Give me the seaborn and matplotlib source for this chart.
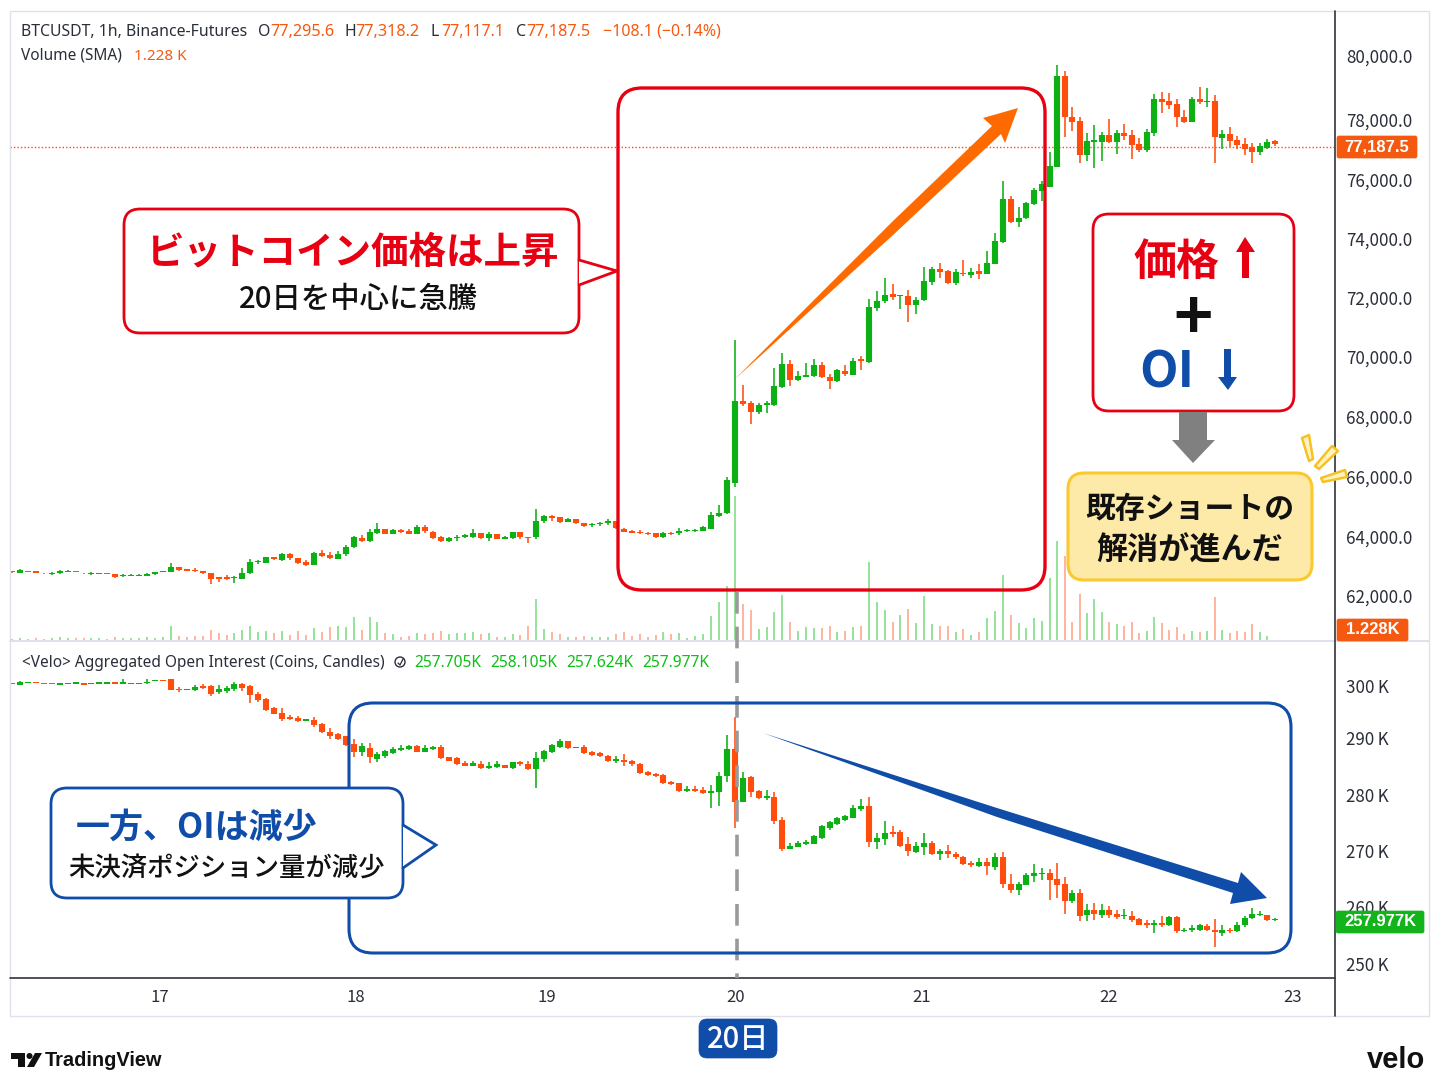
import numpy as np
import pandas as pd
import matplotlib
matplotlib.use("Agg")
import matplotlib.pyplot as plt
from matplotlib.patches import FancyBboxPatch, Polygon, Rectangle, Circle
from matplotlib.transforms import ScaledTranslation
import seaborn as sns

# hourly candles, open / high / low / close
price_candles = [
    (62870,62870,62800,62810),(62790,62910,62780,62890),(62870,62870,62830,62830),(62855,62855,62790,62790),
    (62800,62800,62770,62780),(62755,62810,62720,62790),(62780,62890,62755,62870),(62830,62880,62820,62870),
    (62855,62860,62820,62820),(62800,62800,62770,62780),(62755,62810,62720,62790),(62745,62780,62740,62780),
    (62790,62790,62755,62755),(62765,62765,62620,62650),(62690,62755,62650,62720),(62700,62740,62700,62730),
    (62700,62740,62700,62730),(62700,62800,62675,62755),(62755,62830,62730,62810),(62820,62860,62820,62855),
    (62820,63135,62810,62990),(62990,63000,62840,62888),(62910,62910,62860,62866),(62888,62945,62820,62840),
    (62840,62840,62755,62780),(62780,62780,62405,62600),(62640,62640,62500,62600),(62650,62730,62540,62600),
    (62610,62690,62460,62640),(62600,62945,62575,62790),(62780,63270,62755,63157),(63145,63235,63100,63190),
    (63135,63335,63112,63315),(63315,63315,63224,63258),(63224,63470,63200,63425),(63425,63448,63224,63280),
    (63280,63290,63090,63112),(63145,63224,63034,63056),(63056,63504,63045,63470),(63470,63560,63315,63347),
    (63392,63481,63258,63280),(63258,63537,63246,63414),(63414,63716,63358,63660),(63660,64030,63615,63996),
    (63974,64063,63817,63873),(63862,64253,63840,64153),(64119,64477,64097,64253),(64253,64253,64108,64108),
    (64108,64253,64085,64231),(64220,64276,64142,64164),(64197,64276,64085,64097),(64097,64410,64085,64343),
    (64320,64388,64119,64197),(64175,64197,63918,63951),(64007,64041,63828,63850),(63850,64007,63828,63974),
    (63951,64063,63873,64007),(63996,64085,63962,64052),(63996,64276,63974,64119),(64119,64119,63940,63962),
    (63951,64153,63873,64085),(64085,64085,63929,63929),(63940,64030,63918,63996),(63951,64175,63929,64163),
    (64153,64175,63929,63996),(64007,64007,63783,63974),(63985,64947,63940,64544),(64522,64746,64477,64701),
    (64690,64746,64544,64645),(64656,64678,64466,64488),(64500,64645,64488,64611),(64589,64611,64443,64455),
    (64455,64477,64320,64365),(64388,64455,64343,64432),(64421,64488,64376,64455),(64455,64600,64410,64533),
    (64522,64544,64253,64287),(64265,64309,64175,64175),(64197,64220,64119,64142),(64153,64242,64085,64119),
    (64119,64153,64063,64097),(64119,64130,63962,63996),(63985,64164,63962,64142),(64142,64175,64074,64097),
    (64119,64287,64052,64197),(64186,64253,64153,64231),(64197,64276,64175,64231),(64209,64365,64186,64320),
    (64276,64824,64253,64723),(64690,65070,64656,64813),(64802,66010,64768,65910),(65809,70608,65675,68561),
    (68570,69085,68391,68470),(68503,68570,67798,68190),(68190,68503,68123,68425),(68436,68559,68145,68481),
    (68436,69656,68403,69063),(69029,70182,68995,69790),(69801,69924,69074,69264),(69264,69577,69231,69387),
    (69376,69835,69354,69432),(69398,69958,69354,69779),(69779,69868,69331,69365),(69376,69466,68951,69231),
    (69219,69645,69197,69589),(69566,69756,69410,69466),(69443,70003,69432,69913),(69958,70081,69589,69913),
    (69880,71972,69846,71726),(71681,72252,71580,71927),(71905,72699,71838,72129),(72140,72487,71950,72039),
    (72073,72106,71636,72106),(72084,72274,71222,71771),(71771,72050,71491,71961),(71939,73046,71905,72588),
    (72565,73069,72453,73002),(73002,73181,72677,72890),(72923,72946,72487,72532),(72532,72979,72464,72878),
    (72867,73293,72755,72823),(72789,73024,72699,72901),(72923,73147,72655,72834),(72834,73606,72811,73192),
    (73169,74210,73147,73919),(73896,75944,73863,75340),(75340,75440,74534,74568),(74568,75071,74400,74702),
    (74702,75239,74668,75205),(75172,75709,75138,75642),(75608,75944,75272,75843),(75742,76917,75742,76447),
    (76413,79837,76413,79470),(79478,79635,77408,78079),(78079,78437,77621,77923),(77956,78079,76535,76815),
    (76815,77542,76625,77274),(77251,77833,76378,77307),(77262,77576,76625,77475),(77486,78035,77229,77240),
    (77240,77654,76860,77565),(77565,77844,77307,77441),(77475,77665,76669,77151),(77184,77374,76904,76994),
    (76983,77676,76904,77576),(77542,78851,77464,78684),(78695,78930,78214,78605),(78639,78896,78359,78505),
    (78527,78684,77766,78079),(78079,78314,77878,77934),(77934,78751,77911,78684),(78695,79086,78516,78605),
    (78594,79075,78437,78639),(78639,78818,76557,77408),(77397,77654,77005,77520),(77520,77755,77072,77296),
    (77318,77464,77005,77151),(77184,77374,76815,77016),(77072,77206,76557,76916),(76927,77229,76815,77106),
    (77061,77352,77027,77262),(77295.6,77318.2,77117.1,77187.5),
]

# thousands of coins per hour
volumes = [
    .22,.29,.26,.37,.26,.37,.48,.33,.37,.33,.29,.37,.26,.48,.29,.33,.29,.40,.29,.40,
    1.69,.59,.48,.59,.51,1.17,.88,.62,.88,1.25,1.65,.95,1.10,.88,1.10,.66,1.14,.62,1.39,1.03,
    1.58,1.69,1.50,2.68,1.21,2.64,2.09,.88,.73,.48,.59,.92,.73,.92,1.10,.77,.84,.84,.95,.77,
    .88,.44,.48,.81,.62,1.69,4.66,1.36,.99,.81,.44,.48,.59,.48,.48,.44,.81,.95,.59,.81,
    .48,.62,1.03,.77,.88,.37,.55,.77,2.79,4.33,6.06,16.0,4.07,3.41,1.28,1.50,3.16,5.06,2.06,1.10,
    1.58,1.43,1.39,1.61,.95,1.14,1.50,1.65,8.70,4.29,3.41,2.06,2.90,3.52,1.98,4.95,1.87,1.69,1.69,.99,
    1.32,.70,.95,2.50,3.34,7.27,2.90,1.95,1.43,2.57,2.17,6.97,11.0,9.40,2.13,5.14,3.12,4.59,3.16,2.13,
    1.87,1.69,2.09,.84,1.10,2.64,2.02,1.17,1.58,.77,1.10,1.03,1.06,4.88,1.25,.92,1.10,1.03,1.87,.95,
    .55,.05,
]

# aggregated open interest in thousands of coins
oi_candles = [
    (300.51,300.51,300.33,300.33),(300.09,300.81,300.03,300.69),(300.39,300.63,300.39,300.63),(300.57,300.57,300.39,300.39),
    (300.51,300.51,300.27,300.27),(300.51,300.51,300.21,300.21),(300.15,300.39,300.15,300.39),(300.21,300.45,300.21,300.45),
    (300.21,300.63,300.21,300.63),(300.45,300.45,300.15,300.15),(300.21,300.51,300.21,300.51),(300.33,300.57,300.33,300.57),
    (300.33,300.57,300.33,300.57),(300.57,300.57,300.33,300.33),(300.33,301.11,300.27,300.69),(300.33,300.51,300.33,300.51),
    (300.33,300.51,300.33,300.51),(300.39,301.17,300.33,300.69),(300.75,300.99,300.75,300.99),(300.99,300.99,300.75,300.75),
    (301.11,301.11,299.19,299.19),(299.43,299.79,298.89,299.19),(299.13,299.31,299.13,299.31),(299.19,300.03,299.07,299.67),
    (299.97,300.21,299.31,299.49),(299.91,300.09,298.11,298.47),(298.77,300.09,298.47,299.37),(298.95,299.97,298.71,299.55),
    (299.31,300.63,299.07,300.27),(300.21,300.39,299.01,299.61),(299.97,300.09,296.91,298.35),(298.47,298.89,297.09,297.45),
    (297.57,297.75,295.41,295.59),(295.89,296.19,294.81,294.93),(294.99,295.89,293.67,293.97),(294.27,294.69,293.85,294.03),
    (294.15,294.45,293.49,293.67),(293.55,293.91,293.55,293.91),(293.85,294.27,292.59,292.95),(293.13,293.19,291.45,291.57),
    (291.63,292.29,290.37,290.91),(291.21,291.51,290.13,290.37),(290.85,290.97,289.11,289.23),(289.47,290.37,287.07,288.09),
    (288.09,289.71,287.31,289.05),(288.75,289.71,285.99,287.07),(286.70,287.96,286.16,287.72),(287.24,288.38,287.00,288.14),
    (287.90,288.86,287.66,288.56),(288.32,289.22,288.20,288.74),(288.56,289.34,288.38,289.10),(289.16,289.22,287.96,288.08),
    (288.08,289.22,287.96,288.80),(288.56,289.16,288.38,288.92),(288.86,289.28,286.70,286.88),(287.06,287.18,286.34,286.46),
    (286.88,287.06,285.74,285.92),(286.10,286.40,285.44,285.56),(285.56,286.34,285.44,285.98),(285.80,286.46,284.90,285.08),
    (285.14,286.16,284.90,285.50),(285.38,286.46,285.20,285.80),(285.62,285.62,285.20,285.20),(285.14,286.28,285.02,286.16),
    (286.22,286.46,285.56,285.80),(285.80,286.34,284.78,284.90),(284.90,288.08,281.48,286.88),(286.70,288.38,286.22,288.26),
    (288.02,289.46,287.78,289.22),(288.98,290.42,288.80,290.06),(289.94,290.06,288.56,288.68),(288.68,288.98,288.68,288.98),
    (288.92,289.22,287.66,287.78),(288.02,288.20,287.36,287.48),(287.78,287.96,287.06,287.24),(287.36,287.48,286.22,286.34),
    (286.40,287.36,285.98,286.70),(286.64,287.60,285.56,286.28),(286.34,286.64,285.44,285.80),(285.92,286.04,284.06,284.18),
    (284.42,284.60,283.64,283.82),(284.06,284.24,283.58,283.76),(283.94,284.00,282.32,282.44),(282.68,282.80,282.08,282.26),
    (282.38,282.50,280.88,281.00),(281.00,281.84,280.88,281.36),(281.36,281.90,280.88,281.06),(281.18,281.66,280.46,280.70),
    (280.70,282.08,277.88,280.94),(280.88,284.48,278.36,283.76),(283.76,291.02,282.56,288.56),(288.56,294.32,274.32,279.08),
    (279.09,284.37,278.97,283.41),(283.47,283.71,279.99,280.77),(281.01,281.19,279.51,279.69),(279.69,281.19,279.39,280.11),
    (279.87,280.83,275.07,275.67),(275.79,276.27,270.27,270.57),(270.63,271.71,270.51,271.11),(270.99,272.01,270.87,271.71),
    (271.47,272.13,271.29,271.89),(271.53,273.09,271.41,272.91),(272.49,274.89,272.37,274.77),(274.35,275.67,274.05,275.37),
    (275.07,276.33,274.83,276.15),(275.73,276.63,275.55,276.45),(276.21,278.49,276.15,278.01),(277.71,279.51,277.41,278.25),
    (278.25,279.87,270.87,271.83),(271.83,273.39,270.51,272.61),(272.37,275.67,271.23,273.51),(273.63,274.77,272.73,273.27),
    (273.57,274.05,270.87,271.05),(271.47,272.79,269.25,270.15),(270.03,271.77,269.85,271.17),(270.93,273.45,269.43,271.65),
    (271.65,271.95,269.43,269.55),(269.61,270.57,268.59,270.21),(270.21,271.29,268.89,269.55),(269.67,269.91,268.77,269.01),
    (269.13,269.31,267.63,267.75),(267.93,268.35,267.27,267.57),(267.45,268.83,267.33,268.11),(268.11,268.89,265.77,267.45),
    (267.33,269.73,266.67,269.07),(269.07,269.97,263.43,264.21),(264.21,266.07,262.59,263.19),(263.19,264.63,262.23,264.21),
    (264.09,266.19,263.97,265.83),(265.71,267.81,264.51,266.19),(265.95,267.15,264.87,266.25),(266.19,266.91,261.39,264.87),
    (265.05,267.99,261.69,264.09),(264.21,265.53,258.75,261.15),(261.15,263.07,260.79,262.53),(262.59,263.31,257.49,258.51),
    (258.57,260.67,257.49,259.47),(259.47,260.79,257.79,258.81),(258.69,260.67,258.09,259.47),(259.47,260.31,258.15,258.69),
    (258.87,259.47,257.97,258.33),(258.39,259.71,257.91,258.69),(258.51,259.29,257.31,257.73),(257.91,258.09,256.77,256.89),
    (257.13,257.79,256.29,256.77),(256.77,257.73,255.39,257.25),(257.19,258.51,256.41,256.77),(256.77,258.39,256.59,258.21),
    (258.21,258.39,255.45,255.69),(255.69,256.29,255.51,255.99),(255.87,256.83,255.51,256.29),(255.99,256.95,255.81,256.77),
    (256.65,256.95,255.81,255.99),(255.99,257.97,252.81,255.51),(255.45,256.77,254.91,255.87),(255.99,256.29,255.39,255.81),
    (255.81,257.31,255.57,256.89),(256.89,258.39,256.47,258.09),(258.09,259.83,257.91,258.81),(258.63,259.35,258.51,258.87),
    (258.69,258.69,257.49,257.67),(257.705,258.105,257.624,257.977),
]

day_labels = ["17", "18", "19", "20", "21", "22", "23"]
day_hours = [18.6, 43.3, 67.3, 91.1, 114.7, 138.9, 163.3]
price_ticks = [80000, 78000, 76000, 74000, 72000, 70000, 68000, 66000, 64000, 62000]
oi_ticks = [300, 290, 280, 270, 260, 250]

UP = "#0cb014"
DOWN = "#ff4d0d"
RED = "#e60012"
BLUE = "#0f4da8"
ORANGE = "#ff6a00"

W, H = 1447, 1087
sns.set_theme(style="white")
plt.rcParams["font.family"] = ["Noto Sans CJK JP", "DejaVu Sans"]
fig = plt.figure(figsize=(W / 100, H / 100), dpi=100, facecolor="white")


def pane(top, bottom, **kw):
    return fig.add_axes([10 / W, 1 - bottom / H, 1325 / W, (bottom - top) / H], **kw)


def draw_candles(ax, candles):
    df = pd.DataFrame(candles, columns=["o", "h", "l", "c"])
    df["hour"] = df.index
    df["dir"] = np.where(df["c"] >= df["o"], "up", "down")
    pal = {"up": UP, "down": DOWN}
    wick = df.melt(id_vars=["hour", "dir"], value_vars=["h", "l"])
    body = df.melt(id_vars=["hour", "dir"], value_vars=["o", "c"])
    sns.lineplot(data=wick, x="hour", y="value", units="hour", estimator=None, hue="dir",
                 palette=pal, linewidth=1.15, legend=False, ax=ax, solid_capstyle="butt", zorder=3)
    sns.lineplot(data=body, x="hour", y="value", units="hour", estimator=None, hue="dir",
                 palette=pal, linewidth=4.4, legend=False, ax=ax, solid_capstyle="butt", zorder=4)


def nudge_labels(ax, dys):
    # the source's scale is slightly uneven, move tick texts by a few pixels
    for lab, dy in zip(ax.get_yticklabels(), dys):
        lab.set_transform(lab.get_transform() + ScaledTranslation(0, dy / 100, fig.dpi_scale_trans))


ax_vol = pane(12, 641)
ax_price = pane(12, 641, sharex=ax_vol)
ax_oi = pane(641, 978, sharex=ax_vol)

# volume bars at the foot of the price pane
price_df = pd.DataFrame(price_candles, columns=["o", "h", "l", "c"])
vol_df = pd.DataFrame({"hour": np.arange(len(volumes)), "top": volumes, "base": 0.0})
vol_df["dir"] = np.where(price_df["c"] >= price_df["o"], "up", "down")
vol_long = vol_df.melt(id_vars=["hour", "dir"], value_vars=["base", "top"])
sns.lineplot(data=vol_long, x="hour", y="value", units="hour", estimator=None, hue="dir",
             palette={"up": "#7fdc84", "down": "#ffa48a"}, linewidth=1.15, legend=False, ax=ax_vol,
             solid_capstyle="butt")
ax_vol.set_ylim(0, 629 * 0.11)
ax_vol.set_axis_off()

draw_candles(ax_price, price_candles)
draw_candles(ax_oi, oi_candles)
ax_price.axhline(77085, color=DOWN, lw=1.0, ls=(0, (1, 1.5)), zorder=2)

# the source chart's hours are not evenly spaced on the page
hour_knots = [-10, 0, 91, 115, 131, 139, 161, 200]
page_knots = [-67, 12, 735, 924, 1050, 1109, 1275, 1567]
to_page = lambda h: np.interp(h, hour_knots, page_knots)
to_hour = lambda p: np.interp(p, page_knots, hour_knots)
ax_vol.set_xscale("function", functions=(to_page, to_hour))
ax_vol.set_xlim(to_hour(10), to_hour(1335))

ax_price.set_ylim(82018 - 33.56 * 641, 82018 - 33.56 * 12)
ax_oi.set_ylim(250 + (963 - 978) / 5.55, 250 + (963 - 641) / 5.55)

TICK = "#2a2e39"
for ax in (ax_price, ax_oi):
    ax.patch.set_visible(False)
    ax.yaxis.tick_right()
    ax.set_xlabel("")
    ax.set_ylabel("")
    for s in ax.spines.values():
        s.set_visible(False)
    ax.tick_params(axis="y", length=0, pad=8.2, labelsize=12.2, labelcolor=TICK)
ax_price.set_yticks(price_ticks, [f"{v:,.1f}" for v in price_ticks])
ax_oi.set_yticks(oi_ticks, [f"{v}\u2009K" for v in oi_ticks])
ax_oi.set_xticks(day_hours, day_labels)
ax_oi.minorticks_off()
ax_oi.tick_params(axis="x", length=0, pad=8, labelsize=12, labelcolor=TICK)
ax_price.tick_params(axis="x", length=0, labelbottom=False)
nudge_labels(ax_price, [5, 0, 0, 0, 1, 1, 1, 1, 0, 1])
nudge_labels(ax_oi, [0, 3, 2, 1, 1, -1])

# page-coordinate layer for the frame and the hand-made callouts
over = fig.add_axes([0, 0, 1, 1], zorder=10)
over.set_xlim(0, W)
over.set_ylim(H, 0)
over.set_axis_off()


def rbox(x0, y0, x1, y1, r, edge, face="none", lw=2.0, z=5):
    over.add_patch(FancyBboxPatch((x0 + r, y0 + r), x1 - x0 - 2 * r, y1 - y0 - 2 * r,
                                  boxstyle=f"round,pad={r},rounding_size={r}",
                                  ec=edge, fc=face, lw=lw, zorder=z))


def poly(pts, color, z=6, **kw):
    over.add_patch(Polygon(pts, closed=True, fc=color, ec=kw.pop("ec", "none"), zorder=z, **kw))


def pointer(pts, edge):
    poly(pts, "white", z=6.1)
    xs, ys = zip(*pts)
    over.plot(xs, ys, color=edge, lw=2.0, zorder=6.2, solid_joinstyle="miter")


def txt(x, y, s, size, color="#1a1a1a", ha="center", weight="normal", z=8, family=None):
    kw = {"family": family} if family else {}
    over.text(x, y, s, fontsize=size, color=color, ha=ha, va="center", fontweight=weight, zorder=z, **kw)


# frame
FRAME = "#dfe2ea"
over.add_patch(Rectangle((9.5, 11), 1419.5, 1005, fc="none", ec=FRAME, lw=1, zorder=1))
over.plot([10, 1429], [641, 641], color=FRAME, lw=1.5, zorder=1)
over.plot([1335, 1335], [11, 1016], color="#30343c", lw=1.2, zorder=1)
over.plot([10, 1335], [978, 978], color="#30343c", lw=1.2, zorder=1)

# value tags on the price scale
TAG_FONT = "Liberation Sans"
for x0, x1, y0, y1, c, s in [(1337, 1417, 136, 158, "#f4590f", "77,187.5"),
                             (1337, 1408, 619, 641, "#f4590f", "1.228K"),
                             (1336, 1424, 911, 933, "#12b31b", "257.977K")]:
    rbox(x0, y0, x1, y1, 2, c, c, 0.5, z=6)
    txt((x0 + x1) / 2, (y0 + y1) / 2, s, 12, "white", weight="bold", family=TAG_FONT)

# legends
LEG = "Noto Sans"
txt(21, 32, "BTCUSDT, 1h, Binance-Futures", 11.4, TICK, "left", family=LEG)
for x, s in [(258, "O"), (345, "H"), (431, "L"), (516, "C")]:
    txt(x, 32, s, 11.4, TICK, "left", family=LEG)
for x, s, fs in [(270, "77,295.6", 11.7), (355, "77,318.2", 11.7), (441, "77,117.1", 11.4), (526, "77,187.5", 11.7),
                 (603, "−108.1 (−0.14%)", 11.5)]:
    txt(x, 32, s, fs, "#f4590f", "left", family=LEG)
txt(21, 56, "Volume (SMA)", 11.1, TICK, "left", family=LEG)
txt(134, 56, "1.228 K", 11, "#f4590f", "left", family=LEG)
txt(22, 663, "<Velo> Aggregated Open Interest (Coins, Candles)", 11.1, TICK, "left", family=LEG)
over.add_patch(Circle((400, 662), 5, fc="none", ec=TICK, lw=1, zorder=8))
over.plot([398, 400, 403], [663, 665, 659], color=TICK, lw=0.9, zorder=8)
for x, s in [(414, "257.705K"), (490, "258.105K"), (566, "257.624K"), (642, "257.977K")]:
    txt(x, 663, s, 11.2, "#0cc015", "left", family=LEG)

# dashed marker on the 20th
over.plot([737, 737], [592, 978], color="#9a9a9a", lw=2.6, ls=(0, (6, 3.6)), zorder=5)

# rising arrow and red frame
rbox(618, 88, 1045, 590, 24, RED, lw=2.4)
poly([(734, 380), (892, 222), (992, 126), (983, 118), (1018, 108), (1005, 143), (1001, 134), (892, 236)], ORANGE)

# falling arrow and blue frame
rbox(349, 703, 1291, 953, 24, BLUE, lw=2.2)
poly([(763, 733), (997, 808), (1238, 883), (1241, 872), (1267, 898), (1230, 904), (1233, 893), (997, 817)], BLUE)

# red callout
rbox(124, 209, 579, 333, 16, RED, "white", 2.0, z=6)
pointer([(579, 260), (617, 271), (579, 285)], RED)
txt(352, 252, "ビットコイン価格は上昇", 27, RED, weight="bold")
txt(358, 299, "20日を中心に急騰", 21.2, "#111111", weight="medium")

# blue callout
rbox(51, 788, 403, 898, 16, BLUE, "white", 2.0, z=6)
pointer([(403, 825), (436, 845), (403, 868)], BLUE)
txt(197, 827, "一方、OIは減少", 24.5, BLUE, weight="bold")
txt(227, 868, "未決済ポジション量が減少", 19, "#111111", weight="medium")

# price up + OI down box
rbox(1093, 214, 1294, 411, 16, RED, "white", 2.0, z=6)
txt(1176, 262, "価格", 31, RED, weight="bold")
poly([(1245, 237), (1255, 252), (1249, 252), (1249, 278), (1242, 278), (1242, 252), (1236, 252)], RED, z=7)
txt(1193, 319, "+", 48, "#111111", weight="bold")
txt(1167, 373, "OI", 36, BLUE, weight="bold")
poly([(1228, 390), (1237, 377), (1231, 377), (1231, 349), (1224, 349), (1224, 377), (1218, 377)], BLUE, z=7)

# grey arrow down to the note
poly([(1179, 412), (1207, 412), (1207, 440), (1215, 440), (1193, 463), (1172, 440), (1179, 440)], "#808080")

# yellow note
rbox(1068, 473, 1312, 580, 16, "#fbc82e", "#fdeaa8", 2.2, z=6)
txt(1190, 509, "既存ショートの", 21.5, "#111111", weight="bold")
txt(1190, 551, "解消が進んだ", 22.4, "#111111", weight="bold")
for pts in [[(1302, 438), (1309, 435), (1313, 459), (1309, 461)],
            [(1332, 446), (1338, 451), (1319, 469), (1315, 466)],
            [(1345, 470), (1347, 477), (1323, 482), (1321, 478)]]:
    poly(pts, "#fff3c4", z=6.5, ec="#f7c221", lw=1.8, joinstyle="round")

# 20th tag
rbox(699, 1019, 777, 1058, 8, BLUE, BLUE, 0.5, z=6)
txt(738, 1040, "20日", 21, "white", weight="medium")

# footer marks
poly([(11, 1053), (25, 1053), (25, 1067), (18, 1067), (18, 1059), (11, 1059)], "#111111")
over.add_patch(Circle((29.5, 1056), 3, fc="#111111", ec="none", zorder=6))
poly([(35, 1053), (42, 1053), (34, 1067), (27, 1067)], "#111111")
txt(45, 1060, "TradingView", 14.4, "#111111", "left", "bold", family="Liberation Sans")
txt(1425, 1060, "velo", 21, "#111111", "right", "bold", family="Liberation Sans")

fig.savefig("out.png", dpi=100, facecolor="white")
